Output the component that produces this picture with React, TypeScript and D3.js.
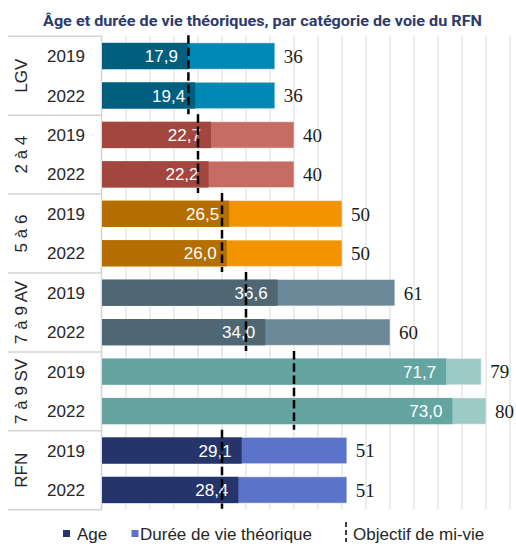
import React from "react";
import * as d3 from "d3";

const groups = ["LGV", "2 à 4", "5 à 6", "7 à 9 AV", "7 à 9 SV", "RFN"];
const years = ["2019", "2022"];
const ageValues = [17.9, 19.4, 22.7, 22.2, 26.5, 26.0, 36.6, 34.0, 71.7, 73.0, 29.1, 28.4];
const lifeValues = [36, 36, 40, 40, 50, 50, 61, 60, 79, 80, 51, 51];
const midLife = [18, 20, 25, 30, 40, 25];
const ageColors = ["#005f7e", "#a2463e", "#b56f00", "#4f6673", "#64a5a2", "#25356c"];
const lifeColors = ["#0087b3", "#c76c62", "#f29400", "#6b8898", "#9ccac6", "#5b74c9"];
const gridTicks = d3.range(5, 90, 5);

const W = 516;
const H = 547;

export default function App() {
  const rows = groups.flatMap((g) => years.map((y) => `${g}|${y}`));
  const x = d3.scaleLinear().domain([0, 85]).range([102, 510]);
  const y = d3
    .scaleBand<string>()
    .domain(rows)
    .range([36.3, 509.7])
    .paddingInner(0.333)
    .paddingOuter(0.1667);
  const step = y.step();
  const groupTop = (gi: number) => 36.3 + gi * 2 * step;
  const fmt = (v: number) => v.toFixed(1).replace(".", ",");
  const sans = "'Liberation Sans', Arial, sans-serif";
  const serif = "'Liberation Serif', 'Times New Roman', serif";

  return (
    <svg
      width={W}
      height={H}
      style={{ position: "absolute", left: 0, top: 0, background: "#fff" }}
    >
      <text
        x={262.5}
        y={26}
        textAnchor="middle"
        fontFamily="Roboto, sans-serif"
        fontWeight="bold"
        fontSize={15.5}
        fill="#2d3b6c"
        textLength={439}
        lengthAdjust="spacingAndGlyphs"
      >
        Âge et durée de vie théoriques, par catégorie de voie du RFN
      </text>

      {/* gridlines */}
      {gridTicks.map((t) => (
        <line
          key={t}
          x1={x(t)}
          x2={x(t)}
          y1={35.5}
          y2={509.7}
          stroke="#d9d9d9"
          strokeWidth={1}
        />
      ))}

      {/* label table lines */}
      {d3.range(groups.length + 1).map((gi) => (
        <line
          key={gi}
          x1={8}
          x2={102}
          y1={groupTop(gi)}
          y2={groupTop(gi)}
          stroke="#d3d3d3"
          strokeWidth={1.5}
        />
      ))}
      <line x1={101.5} x2={101.5} y1={35.5} y2={510} stroke="#d3d3d3" strokeWidth={1.5} />

      {/* bars */}
      {rows.map((r, i) => {
        const gi = Math.floor(i / 2);
        const yy = y(r)!;
        const bw = y.bandwidth();
        return (
          <g key={r}>
            <rect
              x={x(0)}
              y={yy}
              width={x(lifeValues[i]) - x(0)}
              height={bw}
              fill={lifeColors[gi]}
              stroke="rgba(255,255,255,0.45)"
              strokeWidth={1}
            />
            <rect
              x={x(0)}
              y={yy}
              width={x(ageValues[i]) - x(0)}
              height={bw}
              fill={ageColors[gi]}
            />
            <text
              x={x(ageValues[i]) - 10}
              y={yy + bw / 2}
              dy="0.36em"
              textAnchor="end"
              fontFamily={sans}
              fontSize={17}
              fill="#fff"
            >
              {fmt(ageValues[i])}
            </text>
            <text
              x={x(lifeValues[i]) + 9}
              y={yy + bw / 2}
              dy="0.36em"
              textAnchor="start"
              fontFamily={serif}
              fontSize={19}
              fill="#1a1a1a"
            >
              {lifeValues[i]}
            </text>
            <text
              x={66}
              y={yy + bw / 2}
              dy="0.36em"
              textAnchor="middle"
              fontFamily={sans}
              fontSize={17}
              fill="#262626"
            >
              {years[i % 2]}
            </text>
          </g>
        );
      })}

      {/* group labels */}
      {groups.map((g, gi) => {
        const cy = groupTop(gi) + step;
        return (
          <text
            key={g}
            transform={`translate(21,${cy}) rotate(-90)`}
            textAnchor="middle"
            dy="0.36em"
            fontFamily={sans}
            fontSize={17}
            fill="#262626"
          >
            {g}
          </text>
        );
      })}

      {/* mid-life dashed lines */}
      {midLife.map((m, gi) => (
        <line
          key={gi}
          x1={x(m)}
          x2={x(m)}
          y1={groupTop(gi) - 1}
          y2={groupTop(gi + 1) - 1}
          stroke="#000"
          strokeWidth={2.5}
          strokeDasharray="8.5 3.8"
        />
      ))}

      {/* legend */}
      <rect x={63} y={530} width={7} height={7} fill={ageColors[5]} />
      <text x={77} y={539.5} fontFamily={sans} fontSize={17} fill="#262626">
        Age
      </text>
      <rect x={131.5} y={530} width={7} height={7} fill={lifeColors[5]} />
      <text x={140} y={539.5} fontFamily={sans} fontSize={17} fill="#262626">
        Durée de vie théorique
      </text>
      <line
        x1={346}
        x2={346}
        y1={522}
        y2={542}
        stroke="#000"
        strokeWidth={1.5}
        strokeDasharray="5 3"
      />
      <text x={353} y={539.5} fontFamily={sans} fontSize={17} fill="#262626">
        Objectif de mi-vie
      </text>
    </svg>
  );
}
